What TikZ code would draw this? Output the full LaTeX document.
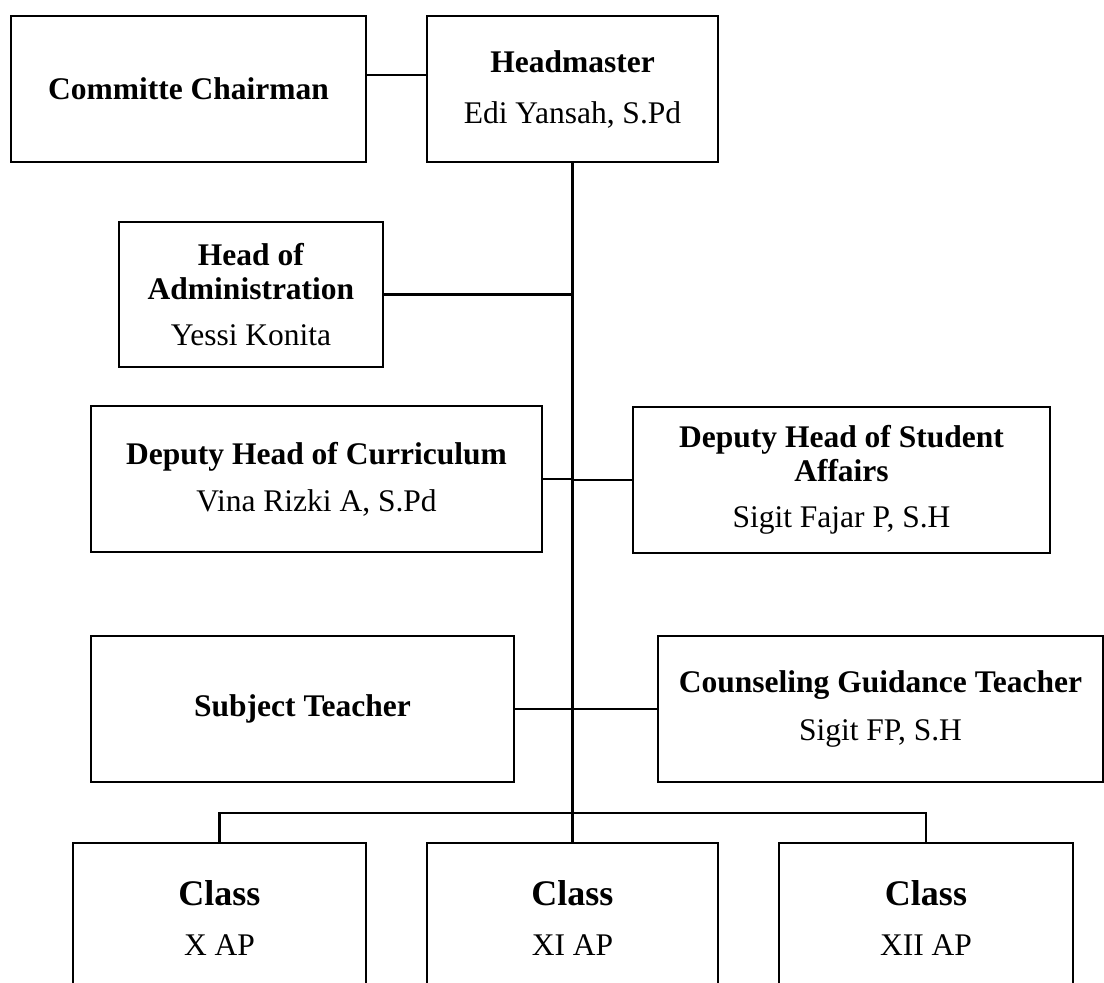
\documentclass[tikz,border=0pt]{standalone}
\usepackage{fontspec}
\setmainfont{Liberation Serif}
\begin{document}
\begin{tikzpicture}[x=1pt,y=-1pt,
  box/.style={draw, line width=2pt, inner sep=0pt, align=center,
    font=\fontsize{31.5}{34}\selectfont},
  link/.style={line width=2.2pt}]
\clip (0,0) rectangle (1104,983);
\fill[white] (0,0) rectangle (1104,983);

\node[box, minimum width=355pt, minimum height=146pt] (chair) at (188.5,89)
  {\textbf{Committe Chairman}};
\node[box, minimum width=291pt, minimum height=146pt] (head) at (572.5,89)
  {\textbf{Headmaster}\\[17pt]Edi Yansah, S.Pd};
\node[box, minimum width=264pt, minimum height=145pt] (admin) at (251,294.5)
  {\textbf{Head of}\\\textbf{Administration}\\[12pt]Yessi Konita};
\node[box, minimum width=451pt, minimum height=146pt] (cur) at (316.5,479)
  {\textbf{Deputy Head of Curriculum}\\[13pt]Vina Rizki A, S.Pd};
\node[box, minimum width=417pt, minimum height=146pt] (stu) at (841.5,480)
  {\textbf{Deputy Head of Student}\\\textbf{Affairs}\\[12pt]Sigit Fajar P, S.H};
\node[box, minimum width=423pt, minimum height=146pt] (subj) at (302.5,709)
  {\textbf{Subject Teacher}};
\node[box, minimum width=445pt, minimum height=146pt] (couns) at (880.5,709)
  {\textbf{Counseling Guidance Teacher}\\[14pt]Sigit FP, S.H};
\node[box, minimum width=293pt, minimum height=150pt] (cx) at (219.5,918)
  {{\fontsize{36}{40}\selectfont\textbf{Class}}\\[16pt]X AP};
\node[box, minimum width=291pt, minimum height=150pt] (cxi) at (572.5,918)
  {{\fontsize{36}{40}\selectfont\textbf{Class}}\\[16pt]XI AP};
\node[box, minimum width=294pt, minimum height=150pt] (cxii) at (926,918)
  {{\fontsize{36}{40}\selectfont\textbf{Class}}\\[16pt]XII AP};

\coordinate (bus) at (572.5,813);

\draw[link] ([yshift=14pt]chair.east) -- ([yshift=14pt]head.west);
\draw[link] (head.south) -- (cxi.north);
\draw[link] (admin.east) -- (admin.east -| head.south);
\draw[link] (cur.east) -- (cur.east -| head.south);
\draw[link] (stu.west) -- (stu.west -| head.south);
\draw[link] (subj.east) -- (subj.east -| head.south);
\draw[link] (couns.west) -- (couns.west -| head.south);
\draw[link] (cx.north) |- (bus) -| (cxii.north);
\end{tikzpicture}
\end{document}
